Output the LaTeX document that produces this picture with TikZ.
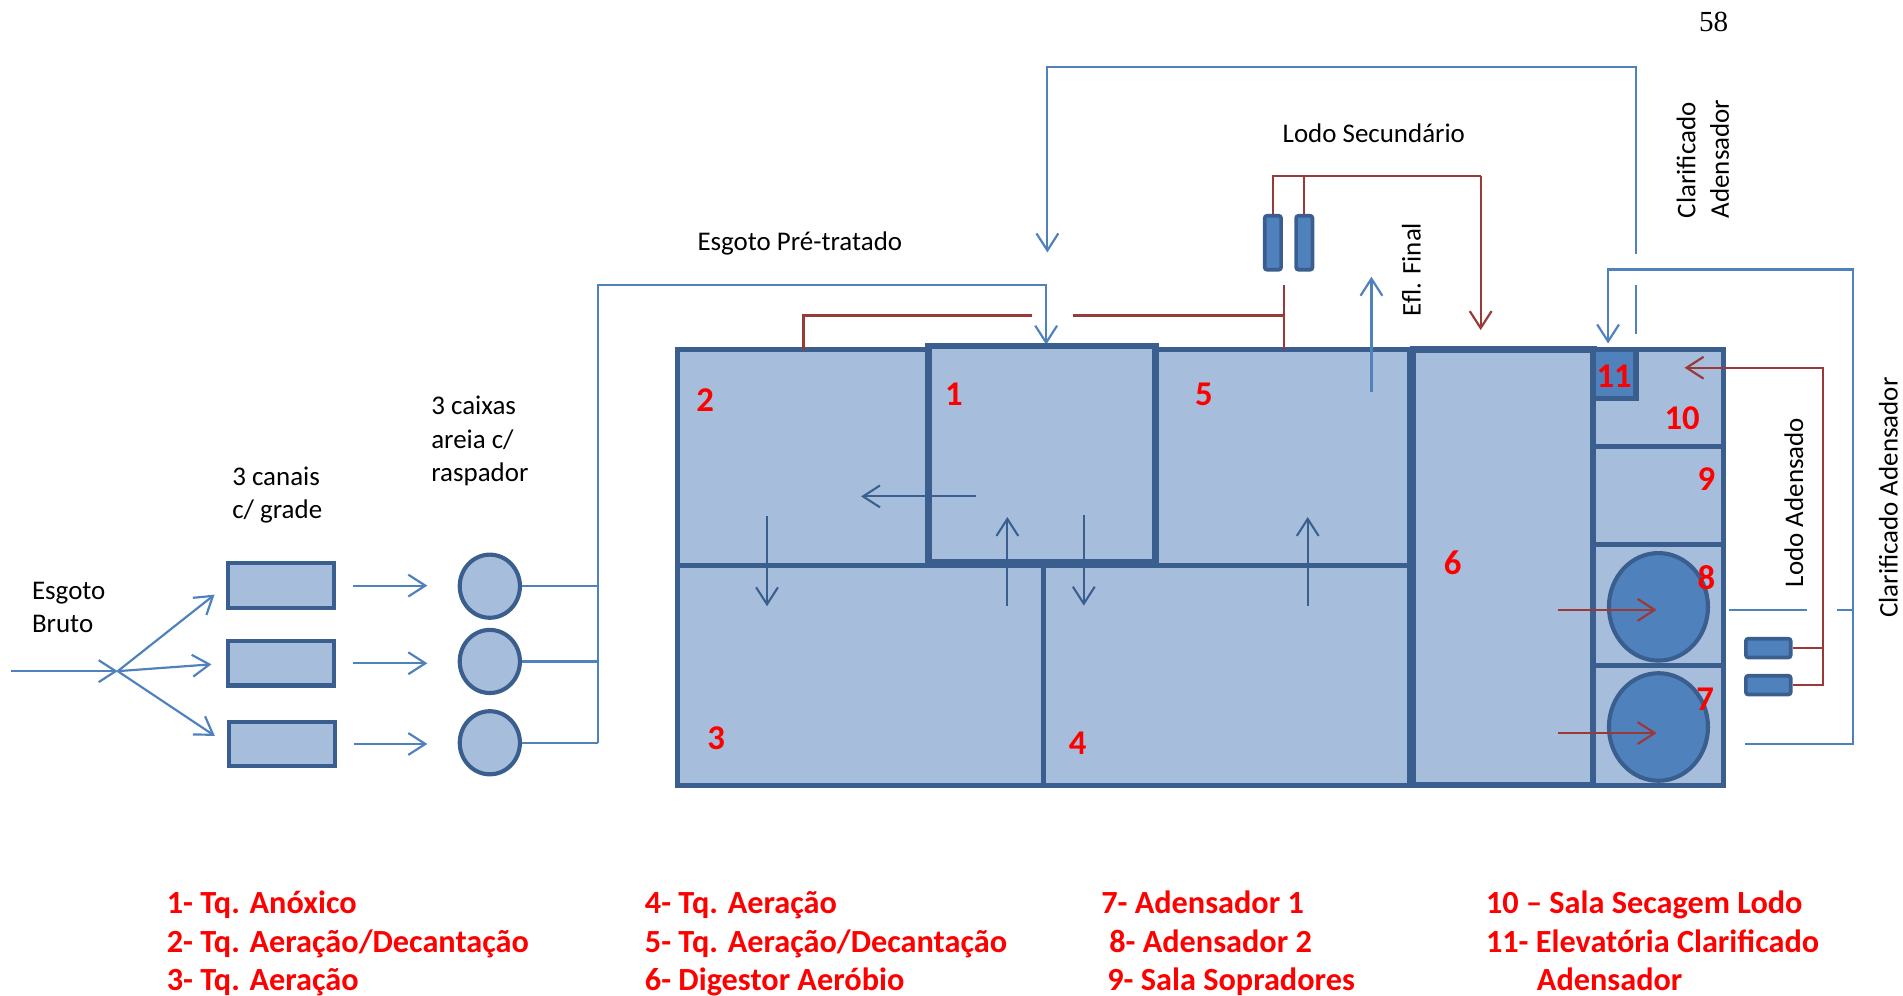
\documentclass[tikz,border=0pt]{standalone}
\usepackage{fontspec}
\setmainfont{Carlito}
\newfontfamily\pagefont{Liberation Serif}
\usetikzlibrary{arrows.meta,shapes.geometric}
\definecolor{tankfill}{HTML}{A6BDDB}
\definecolor{tankline}{HTML}{3A5F8E}
\definecolor{midblue}{HTML}{4F81BD}
\definecolor{pipe}{HTML}{4F81BD}
\definecolor{sludge}{HTML}{993A38}
\definecolor{lab}{HTML}{FF0000}
\begin{document}
\begin{tikzpicture}[x=0.5pt,y=-0.5pt,
  tank/.style={fill=tankfill,draw=tankline,line width=2.1pt},
  bluepipe/.style={draw=pipe,line width=0.9pt},
  redpipe/.style={draw=sludge,line width=0.9pt},
  inarrow/.style={draw=tankline,line width=0.85pt},
  barb/.style={-{Straight Barb[length=7pt,width=9pt]}},
  num/.style={text=lab,font=\fontsize{14.3}{16}\selectfont\bfseries,inner sep=0pt},
  lbl/.style={font=\fontsize{11.1}{13.8}\selectfont,inner sep=0pt,align=left},
  leg/.style={text=lab,font=\fontsize{13.3}{16}\selectfont\bfseries,inner sep=0pt,anchor=base west},
  screen/.style={rectangle,fill=tankfill,draw=tankline,line width=1.7pt,minimum width=43.8pt,minimum height=18.3pt,inner sep=0pt},
  grit/.style={ellipse,fill=tankfill,draw=tankline,line width=1.7pt,minimum width=24.8pt,minimum height=26pt,inner sep=0pt},
  thickener/.style={ellipse,fill=midblue,draw=tankline,line width=1.7pt,minimum width=40.8pt,minimum height=44.3pt,inner sep=0pt},
  pump/.style={rectangle,rounded corners=1pt,fill=midblue,draw=tankline,line width=1.5pt,inner sep=0pt}
]
\useasboundingbox (0,0) rectangle (1568,820);

% ---------- preliminary treatment ----------
\node[lbl,anchor=north west] (tbruto) at (26,479) {Esgoto\\Bruto};
\node[lbl,anchor=north west] (tcanais) at (191,384) {3 canais\\c/ grade};
\node[lbl,anchor=north west] (tcaixas) at (355,326) {3 caixas\\areia c/\\raspador};

\node[screen] (s1) at (231.7,482.5) {};
\node[screen] (s2) at (231.7,546.5) {};
\node[screen] (s3) at (232.5,613) {};
\node[grit] (g1) at (403.6,483) {};
\node[grit] (g2) at (403.6,545) {};
\node[grit] (g3) at (403.6,612) {};

\coordinate (src) at (9,553);
\coordinate (jn) at (97,553);
\draw[bluepipe,barb] (src) -- (jn);
\draw[bluepipe,barb,shorten >=6pt] (jn) -- (s1.west);
\draw[bluepipe,barb,shorten >=6pt] (jn) -- (s2.west);
\draw[bluepipe,barb,shorten >=6pt] (jn) -- (s3.west);
\draw[bluepipe,barb,shorten <=7pt,shorten >=12.5pt] (s1.east) -- (s1.east -| g1.west);
\draw[bluepipe,barb,shorten <=7pt,shorten >=12.5pt] (s2.east) -- (s2.east -| g2.west);
\draw[bluepipe,barb,shorten <=7pt,shorten >=12.5pt] (s3.east) -- (s3.east -| g3.west);

\coordinate (cTop) at (493,235);
\coordinate (cBot) at (493,612);
\coordinate (t1in) at (862,284);
\draw[bluepipe] (g1.east) -- (g1.east -| cTop);
\draw[bluepipe] (g2.east) -- (g2.east -| cTop);
\draw[bluepipe] (g3.east) -- (g3.east -| cTop);
\draw[bluepipe,barb] (cBot) -- (cTop) -| (t1in);
\node[lbl] (tpre) at (659,201) {Esgoto Pré-tratado};

% ---------- tanks ----------
\draw[tank] (558,288) rectangle (765,466);
\draw[tank] (558,466) rectangle (860,647);
\draw[tank] (860,466) rectangle (1161,647);
\draw[tank] (952,288) rectangle (1161,466);
\draw[tank,line width=2.6pt] (765,285) rectangle (952,463);
\draw[tank,line width=2.6pt] (1164,288) rectangle (1313,647);
\draw[tank] (1313,288) rectangle (1420,368);
\draw[tank] (1313,368) rectangle (1420,449);
\draw[tank] (1313,449) rectangle (1420,548);
\draw[tank] (1313,548) rectangle (1420,647);
\draw[tank,fill=midblue] (1313,288) rectangle (1348,328);
\node[thickener] (k8) at (1366.5,500) {};
\node[thickener] (k7) at (1366.5,599) {};

% internal flow arrows
\draw[inarrow,barb] (804,409) -- (709.5,409);
\draw[inarrow,barb] (632,425.5) -- (632,499.5);
\draw[inarrow,barb] (830,499) -- (830,426);
\draw[inarrow,barb] (893,424) -- (893,499);
\draw[inarrow,barb] (1077.5,499) -- (1077.5,426);

% tank numbers
\node[num] (n2) at (581,330) {2};
\node[num] (n1) at (786,325) {1};
\node[num] (n5) at (992,325) {5};
\node[num] (n3) at (590,608) {3};
\node[num] (n4) at (888,612) {4};
\node[num] (n6) at (1197,464) {6};
\node[num] (n11) at (1330,310) {11};
\node[num] (n10) at (1386,345) {10};
\node[num] (n9) at (1406,395) {9};
\node[num] (n8) at (1406,476) {8};
\node[num] (n7) at (1405,576) {7};

% ---------- secondary sludge (red) ----------
\node[pump,minimum width=6.75pt,minimum height=22.25pt] (p1) at (1048.8,200) {};
\node[pump,minimum width=6.75pt,minimum height=22.25pt] (p2) at (1074.7,200) {};
\coordinate (r2) at (662,288);
\coordinate (r5) at (1058,288);
\draw[redpipe] (r2) -- (662,260) -- (850,260);
\draw[redpipe] (884,260) -- (1058,260);
\draw[redpipe] (r5) -- (1058,235);
\coordinate (r6) at (1220,272);
\draw[redpipe] (p1.north) -- (1048.8,145) -- (1220,145);
\draw[redpipe] (p2.north) -- (1074.7,145);
\draw[redpipe,barb] (1220,145) -- (r6);
\node[lbl] (tlodosec) at (1132,110) {Lodo Secundário};

% digester to thickeners
\draw[redpipe,barb] (1284,502.5) -- (1365,502.5);
\draw[redpipe,barb] (1284,604) -- (1365,604);

% thickened sludge
\node[pump,minimum width=18.5pt,minimum height=7.75pt] (p3) at (1457,534) {};
\node[pump,minimum width=18.5pt,minimum height=7.75pt] (p4) at (1457,564.5) {};
\coordinate (r10) at (1388,303);
\draw[redpipe] (p3.east) -- (1502,534);
\draw[redpipe,barb] (p4.east) -- (1502,564.5) -- (1502,303) -- (r10);
\node[lbl,rotate=90] (tlodoad) at (1478,414) {Lodo Adensado};

% ---------- effluent and clarified returns (blue) ----------
\coordinate (eflA) at (1130,323);
\coordinate (eflB) at (1130,228);
\draw[bluepipe,barb] (eflA) -- (eflB);
\node[lbl,rotate=90] (tefl) at (1163,222) {Efl. Final};

\coordinate (e11) at (1348,275);
\coordinate (t1ret) at (863,208);
\draw[bluepipe] (e11) -- (1348,235);
\draw[bluepipe,barb] (1348,209) -- (1348,55) -| (t1ret);
\node[lbl,rotate=90,align=left] (tclar1) at (1403,131) {Clarificado\\Adensador};

\coordinate (o8) at (1425,502.5);
\coordinate (o7) at (1438,613);
\coordinate (in11) at (1325,283);
\draw[bluepipe] (o8) -- (1489,502.5);
\draw[bluepipe] (1514,502.5) -- (1527,502.5);
\draw[bluepipe,barb] (o7) -- (1527,613) -- (1527,222) -| (in11);
\node[lbl,rotate=90] (tclar2) at (1556,410) {Clarificado Adensador};

\node[font=\pagefont\fontsize{12}{14}\selectfont,inner sep=0pt] (page) at (1412,18) {58};

% ---------- legend ----------
\node[leg] (l1) at (137,753) {1- Tq. Anóxico};
\node[leg] (l2) at (137,784.5) {2- Tq. Aeração/Decantação};
\node[leg] (l3) at (137,816.5) {3- Tq. Aeração};
\node[leg] (l4) at (531,753) {4- Tq. Aeração};
\node[leg] (l5) at (531,784.5) {5- Tq. Aeração/Decantação};
\node[leg] (l6) at (531,816.5) {6- Digestor Aeróbio};
\node[leg] (l7) at (907,753) {7- Adensador 1};
\node[leg] (l8) at (913.6,784.5) {8- Adensador 2};
\node[leg] (l9) at (912,816.5) {9- Sala Sopradores};
\node[leg] (l10) at (1224,753) {10 – Sala Secagem Lodo};
\node[leg] (l11) at (1224,784.5) {11- Elevatória Clarificado};
\node[leg] (l12) at (1266,816.5) {Adensador};
\end{tikzpicture}
\end{document}
